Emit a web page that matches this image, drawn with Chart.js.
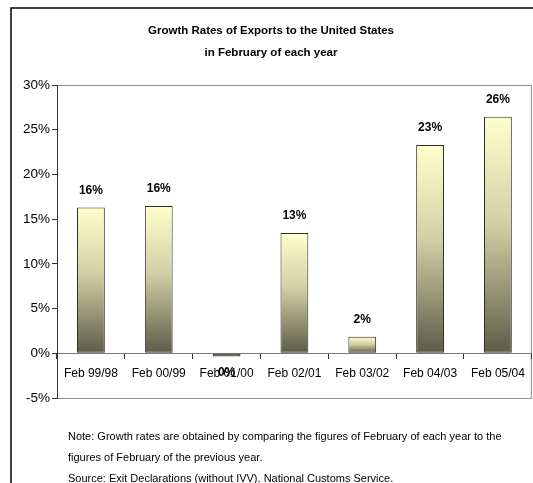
<!DOCTYPE html>
<html>
<head>
<meta charset="utf-8">
<script src="https://cdn.jsdelivr.net/npm/chart.js@4"></script>
<style>
    body { margin: 0; background: #fff; }
    #wrap { width: 533px; height: 483px; position: relative; }
</style>
</head>
<body>
<div id="wrap"><canvas id="growthChart" width="533" height="483"></canvas></div>
<script>
const periods = ['Feb 99/98', 'Feb 00/99', 'Feb 01/00', 'Feb 02/01', 'Feb 03/02', 'Feb 04/03', 'Feb 05/04'];
const growthRates = [16.3, 16.48, -0.35, 13.45, 1.85, 23.3, 26.45];
const yTicks = [-5, 0, 5, 10, 15, 20, 25, 30];
const titleLines = ['Growth Rates of Exports to the United States', 'in February of each year'];
const noteLines = [
    'Note: Growth rates are obtained by comparing the figures of February of each year to the',
    'figures of February of the previous year.',
    'Source: Exit Declarations (without IVV). National Customs Service.',
];

const FONT = '"Liberation Sans", Arial, sans-serif';

const pct = (v) => {
    const r = Math.round(v);
    return (r === 0 ? 0 : r) + '%';
};

// frame, plot border, title and notes
const decorations = {
    id: 'decorations',
    beforeDraw(chart) {
        const ctx = chart.ctx;
        const area = chart.chartArea;
        ctx.save();
        ctx.fillStyle = '#fff';
        ctx.fillRect(0, 0, chart.width, chart.height);

        ctx.strokeStyle = '#000';
        ctx.lineWidth = 1.5;
        ctx.beginPath();
        ctx.moveTo(11, chart.height);
        ctx.lineTo(11, 8);
        ctx.lineTo(chart.width, 8);
        ctx.stroke();

        ctx.strokeStyle = '#8c8c8c';
        ctx.lineWidth = 1;
        ctx.strokeRect(area.left + 0.5, area.top + 0.5, area.right - area.left - 1, area.bottom - area.top);

        ctx.fillStyle = '#000';
        ctx.textAlign = 'center';
        ctx.textBaseline = 'middle';
        ctx.font = 'bold 11.5px ' + FONT;
        titleLines.forEach((line, i) => ctx.fillText(line, 271, 31 + i * 22));

        ctx.textAlign = 'left';
        ctx.font = '11px ' + FONT;
        noteLines.forEach((line, i) => ctx.fillText(line, 68, 437 + i * 21));
        ctx.restore();
    },
};

// value labels above / below each bar
const barLabels = {
    id: 'barLabels',
    afterDatasetsDraw(chart) {
        const ctx = chart.ctx;
        const meta = chart.getDatasetMeta(0);
        ctx.save();
        ctx.fillStyle = '#000';
        ctx.font = 'bold 12px ' + FONT;
        ctx.textAlign = 'center';
        ctx.textBaseline = 'middle';
        meta.data.forEach((bar, i) => {
            const v = growthRates[i];
            const y = v >= 0 ? bar.y - 17 : bar.y + 16;
            ctx.fillText(pct(v), bar.x, y);
        });
        ctx.restore();
    },
};

const barFill = (c) => {
    const chart = c.chart;
    const v = growthRates[c.dataIndex];
    if (!chart.chartArea || v < 0) return '#55553f';
    const y = chart.scales.y;
    const top = y.getPixelForValue(v);
    const base = y.getPixelForValue(0);
    const g = chart.ctx.createLinearGradient(0, top, 0, base);
    g.addColorStop(0, '#ffffcc');
    g.addColorStop(0.45, '#d2d0a6');
    g.addColorStop(1, '#5c5c48');
    return g;
};

new Chart(document.getElementById('growthChart'), {
    type: 'bar',
    data: {
        labels: periods,
        datasets: [
            {
                data: growthRates,
                backgroundColor: barFill,
                borderColor: '#2e2e26',
                borderWidth: 1,
                borderSkipped: false,
                categoryPercentage: 1,
                barPercentage: 0.41,
            },
        ],
    },
    options: {
        responsive: false,
        animation: false,
        devicePixelRatio: 1,
        layout: { padding: { left: 11, top: 85, right: 1, bottom: 85 } },
        plugins: {
            legend: { display: false },
            tooltip: { enabled: false },
        },
        scales: {
            x: {
                position: { y: 0 },
                offset: true,
                grid: {
                    offset: true,
                    drawOnChartArea: false,
                    drawTicks: true,
                    tickLength: 5,
                    color: '#333',
                },
                border: { color: '#7a7a7a', width: 1 },
                ticks: {
                    color: '#000',
                    font: { family: FONT, size: 12 },
                    padding: 8,
                    maxRotation: 0,
                    autoSkip: false,
                },
            },
            y: {
                min: -5,
                max: 30,
                afterBuildTicks: (scale) => {
                    scale.ticks = yTicks.map((v) => ({ value: v }));
                },
                afterFit: (scale) => {
                    scale.width = 46;
                },
                grid: {
                    drawOnChartArea: false,
                    drawTicks: true,
                    tickLength: 5,
                    color: '#333',
                },
                border: { color: '#333', width: 1 },
                ticks: {
                    color: '#000',
                    font: { family: FONT, size: 13.5 },
                    padding: 2,
                    callback: (v) => v + '%',
                },
            },
        },
    },
    plugins: [decorations, barLabels],
});
</script>
</body>
</html>
